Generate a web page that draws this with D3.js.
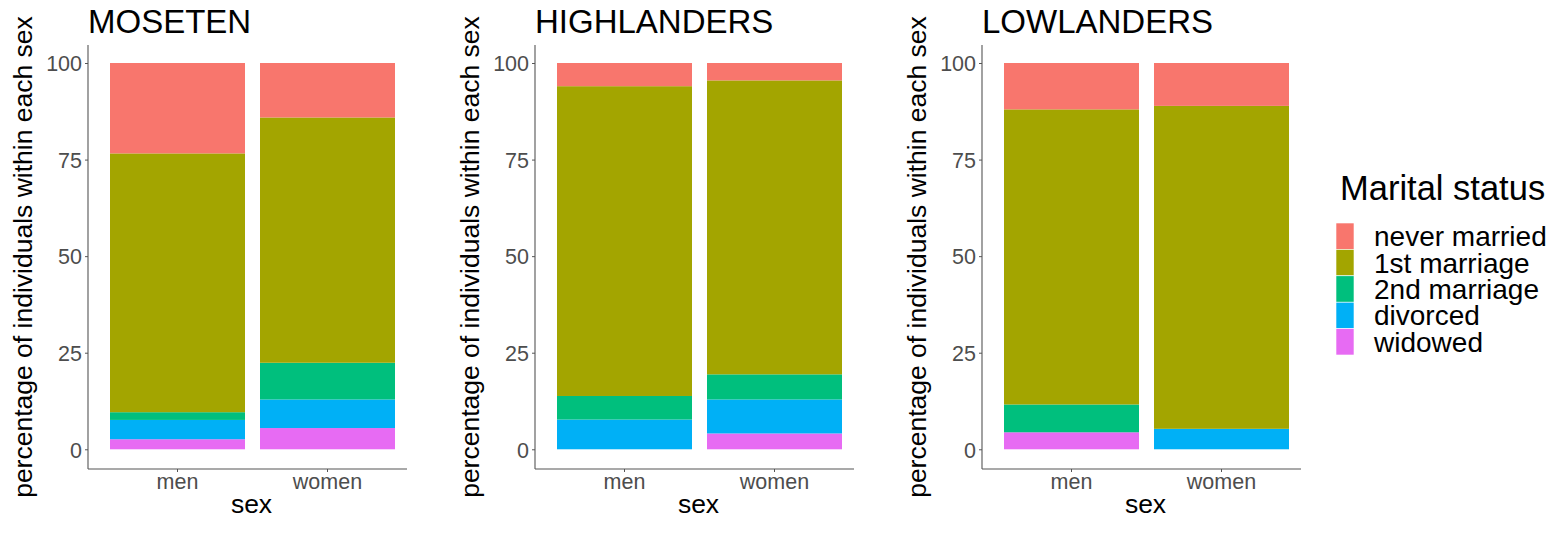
<!DOCTYPE html>
<html><head><meta charset="utf-8">
<script src="https://cdn.jsdelivr.net/npm/d3@7"></script>
<style>body{margin:0;background:#fff}svg{display:block;font-family:"Liberation Sans",Arial,sans-serif}</style>
</head><body><svg id="c" width="1564" height="551"></svg>
<script>
const groups = ["MOSETEN", "HIGHLANDERS", "LOWLANDERS"];
const sexes = ["men", "women"];
const statuses = ["never married", "1st marriage", "2nd marriage", "divorced", "widowed"];
const colors = ["#F8766D", "#A3A500", "#00BF7D", "#00B0F6", "#E76BF3"];
const yTicks = [0, 25, 50, 75, 100];
// values in order of statuses
const mosetenMen = [23.4, 67.0, 2.0, 5.0, 2.6];
const mosetenWomen = [14.1, 63.5, 9.5, 7.4, 5.5];
const highlandersMen = [6.0, 80.2, 6.1, 7.7, 0];
const highlandersWomen = [4.5, 76.1, 6.5, 8.8, 4.1];
const lowlandersMen = [12.0, 76.4, 7.2, 0, 4.4];
const lowlandersWomen = [11.1, 83.6, 0, 5.3, 0];
const groupData = [[mosetenMen, mosetenWomen], [highlandersMen, highlandersWomen], [lowlandersMen, lowlandersWomen]];

(function () {
const svg = d3.select("#c");
const plotTop = 45, plotBottom = 469, panelW = 319, panelStep = 447, firstLeft = 88;
const y = d3.scaleLinear().domain([-5, 105]).range([468.6, 43.7]);
const color = d3.scaleOrdinal().domain(statuses).range(colors);
const stackKeys = statuses.slice().reverse();
const axisCol = "#555";

groups.forEach((g, gi) => {
  const L = firstLeft + gi * panelStep;
  const gp = svg.append("g");
  const x = d3.scaleBand().domain(sexes).range([L + 22 - 7.5, L + 307 + 7.5]).paddingInner(0.1).paddingOuter(0.05);
  const rows = sexes.map((s, si) => {
    const r = { sex: s };
    statuses.forEach((st, k) => r[st] = groupData[gi][si][k]);
    return r;
  });
  const series = d3.stack().keys(stackKeys)(rows);
  series.forEach(ser => {
    gp.selectAll(null).data(ser.filter(d => d[1] - d[0] > 0)).join("rect")
      .attr("x", d => x(d.data.sex))
      .attr("width", x.bandwidth())
      .attr("y", d => y(d[1]))
      .attr("height", d => y(d[0]) - y(d[1]))
      .attr("fill", color(ser.key));
  });
  // y axis
  const ya = gp.append("g").attr("transform", `translate(${L},0)`)
    .call(d3.axisLeft(y).tickValues(yTicks).tickSize(3).tickPadding(3));
  ya.select(".domain").attr("d", `M0,${plotTop}V${plotBottom}`).attr("stroke", axisCol).attr("stroke-width", 1.1);
  ya.selectAll(".tick line").attr("stroke", axisCol);
  ya.selectAll(".tick text").attr("fill", "#4D4D4D").style("font-size", "21.5px").attr("dy", "0.36em");
  // x axis
  const xa = gp.append("g").attr("transform", `translate(0,${plotBottom})`)
    .call(d3.axisBottom(x).tickSize(3).tickPadding(4));
  xa.select(".domain").attr("d", `M${L},0H${L + panelW}`).attr("stroke", axisCol).attr("stroke-width", 1.1);
  xa.selectAll(".tick line").attr("stroke", axisCol);
  xa.selectAll(".tick text").attr("fill", "#4D4D4D").style("font-size", "21.5px").attr("dy", null).attr("y", 19.5);
  // titles
  gp.append("text").attr("x", L).attr("y", 33).style("font-size", "33px").attr("fill", "#000").text(g);
  gp.append("text").attr("x", L + panelW / 2 + 4).attr("y", 513).attr("text-anchor", "middle")
    .style("font-size", "26.5px").attr("fill", "#000").text("sex");
  gp.append("text").attr("transform", `translate(${L - 56},${(plotTop + plotBottom) / 2}) rotate(-90)`)
    .attr("text-anchor", "middle").style("font-size", "26.5px").attr("fill", "#000")
    .text("percentage of individuals within each sex");
});

// legend
const lg = svg.append("g");
lg.append("text").attr("x", 1340).attr("y", 200).style("font-size", "34.5px").attr("fill", "#000").text("Marital status");
const keyH = 26.4, keyTop = 223;
statuses.forEach((s, i) => {
  lg.append("rect").attr("x", 1336).attr("y", keyTop + i * keyH).attr("width", 18).attr("height", keyH)
    .attr("fill", color(s)).attr("stroke", "#fff").attr("stroke-width", 0.6);
  lg.append("text").attr("x", 1374).attr("y", keyTop + i * keyH + keyH / 2 + 10).style("font-size", "28px")
    .attr("fill", "#000").text(s);
});
})();
</script></body></html>
